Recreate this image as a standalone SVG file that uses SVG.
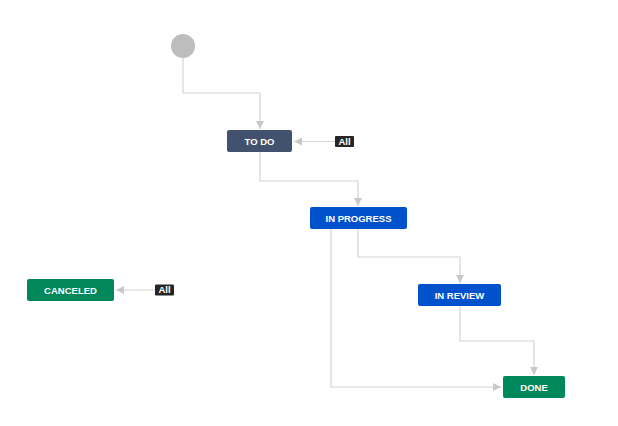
<svg xmlns="http://www.w3.org/2000/svg" width="618" height="426" viewBox="0 0 618 426">
<defs>
<marker id="arr" viewBox="0 0 10 10" refX="10" refY="5" markerWidth="8" markerHeight="8" markerUnits="userSpaceOnUse" orient="auto">
<path d="M0,0 L10,5 L0,10 z" fill="#c8c8c8"/>
</marker>
</defs>
<style>
.conn{fill:none;stroke:#d4d4d4;stroke-width:1.2;}
.lbl{font-family:"Liberation Sans",Arial,sans-serif;font-size:9.5px;font-weight:bold;fill:#fff;text-anchor:middle;}
.badge{fill:#262626;}
</style>
<rect width="618" height="426" fill="#fff"/>
<g id="connectors">
<path class="conn" d="M183,58 V93 H260 V129" marker-end="url(#arr)"/>
<path class="conn" d="M335,141.5 H294" marker-end="url(#arr)"/>
<path class="conn" d="M260,152 V181 H358 V206" marker-end="url(#arr)"/>
<path class="conn" d="M358,229 V257 H460 V283" marker-end="url(#arr)"/>
<path class="conn" d="M331,229 V387 H501" marker-end="url(#arr)"/>
<path class="conn" d="M460,306 V341 H534 V375" marker-end="url(#arr)"/>
<path class="conn" d="M155,290 H116" marker-end="url(#arr)"/>
</g>
<g id="start"><circle cx="183" cy="46" r="12" fill="#bdbdbd"/></g>
<g id="todo"><rect x="227" y="130" width="65" height="22" rx="2" fill="#42526E"/><text class="lbl" x="259.5" y="144.5">TO DO</text></g>
<g id="all-todo"><rect class="badge" x="335" y="136" width="19" height="11" rx="1"/><text class="lbl" x="344.5" y="144.5">All</text></g>
<g id="inprogress"><rect x="310" y="207" width="97" height="22" rx="2" fill="#0052CC"/><text class="lbl" x="358.5" y="221.5">IN PROGRESS</text></g>
<g id="inreview"><rect x="418" y="284" width="83" height="22" rx="2" fill="#0052CC"/><text class="lbl" x="459.5" y="298.5">IN REVIEW</text></g>
<g id="done"><rect x="503" y="376" width="62" height="22" rx="2" fill="#00875A"/><text class="lbl" x="534" y="390.5">DONE</text></g>
<g id="canceled"><rect x="27" y="279" width="87" height="22" rx="2" fill="#00875A"/><text class="lbl" x="70.5" y="293.5">CANCELED</text></g>
<g id="all-canceled"><rect class="badge" x="155" y="284.5" width="19" height="11" rx="1"/><text class="lbl" x="164.5" y="293">All</text></g>
</svg>
